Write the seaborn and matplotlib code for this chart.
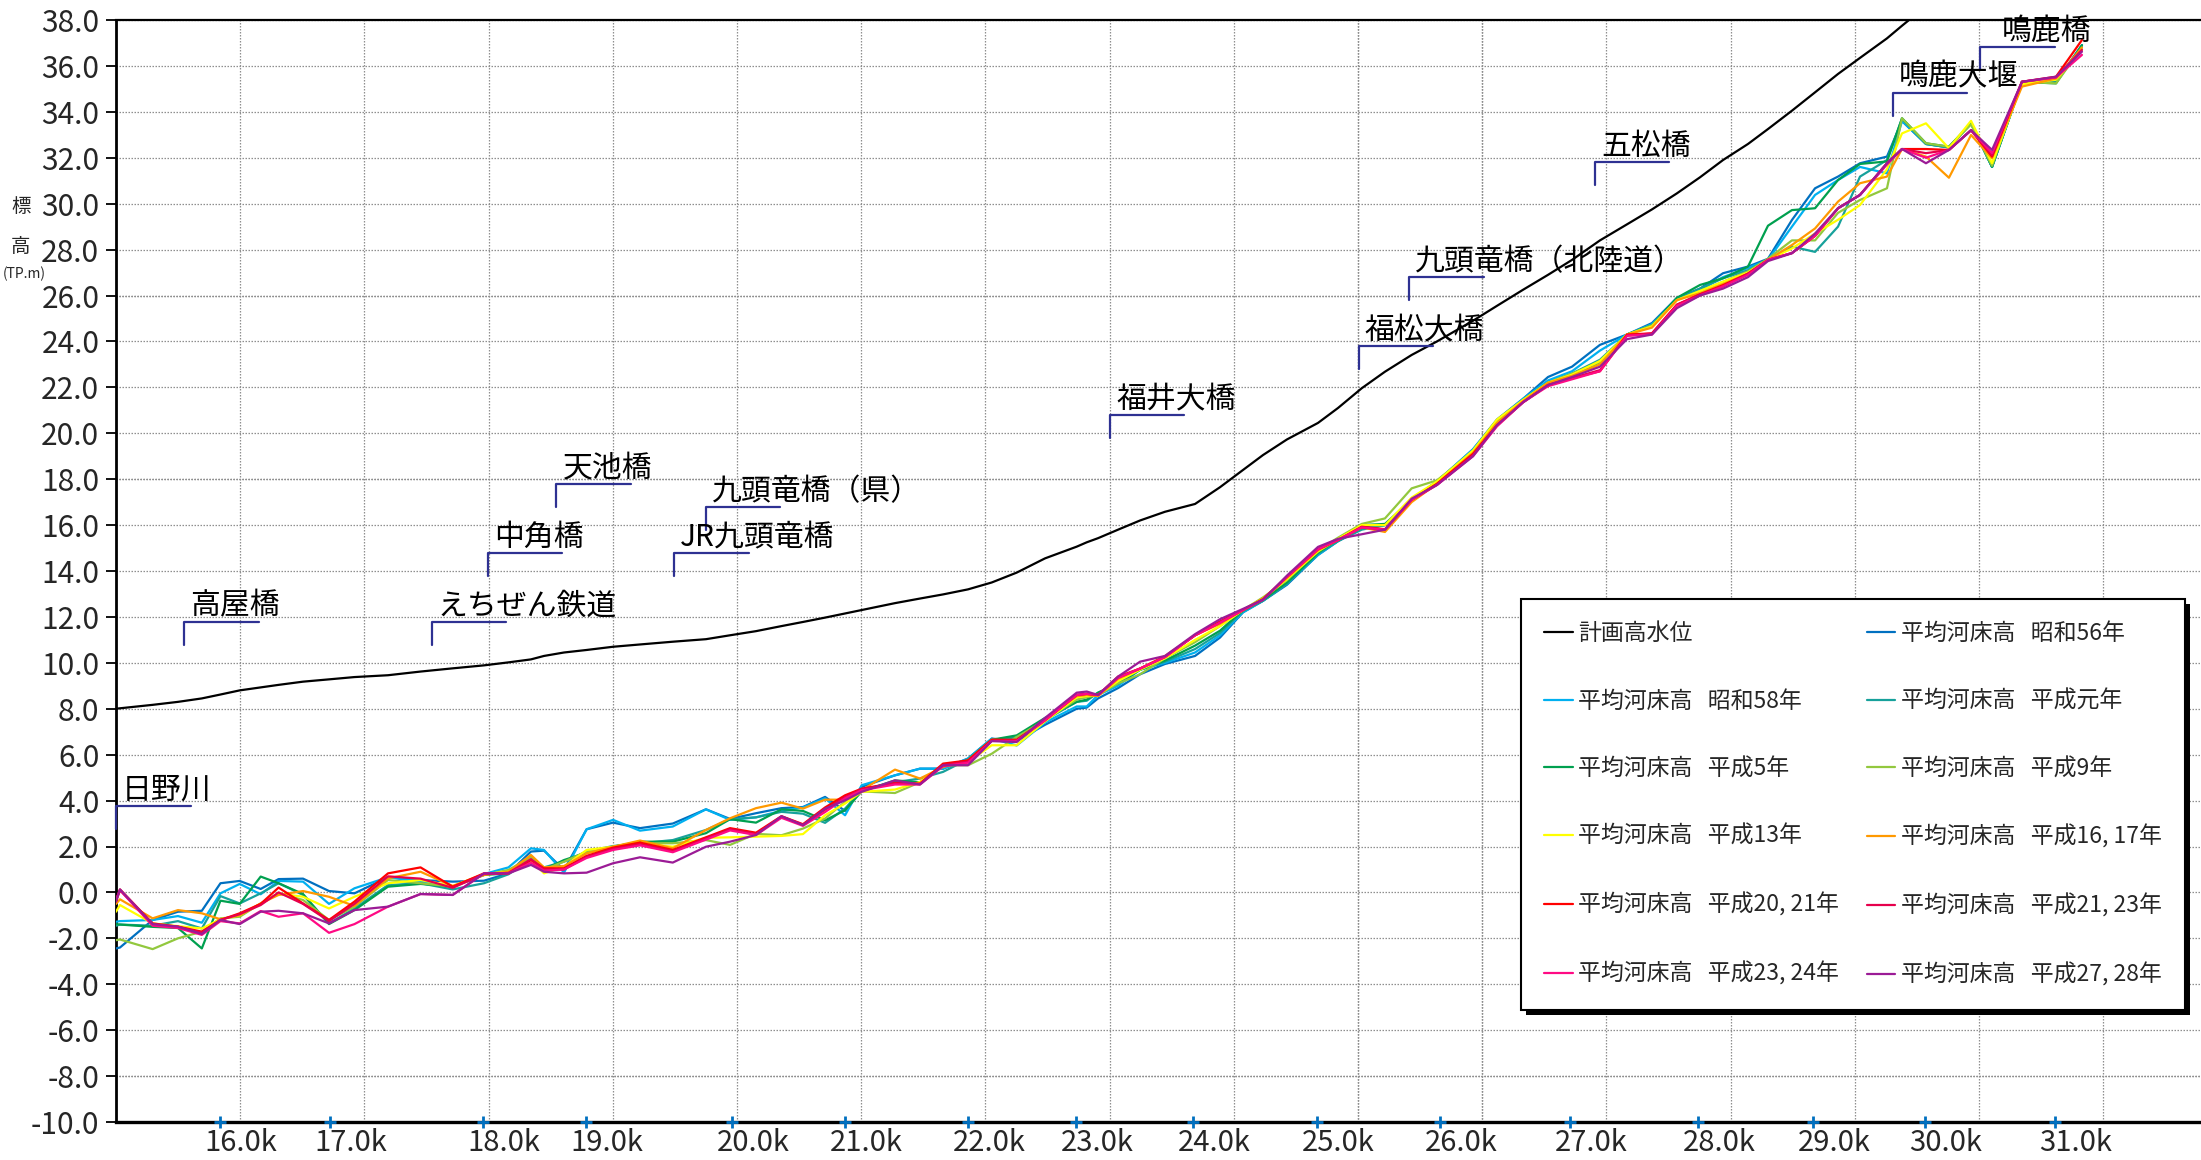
import numpy as np
import pandas as pd
import matplotlib
matplotlib.use("Agg")
import matplotlib.pyplot as plt
from matplotlib.lines import Line2D
from matplotlib.patches import Rectangle
from matplotlib.transforms import ScaledTranslation
import seaborn as sns

sns.set_theme(style="white")
plt.rcParams['font.family'] = ['Noto Sans CJK JP', 'DejaVu Sans']

# cumulative distance along the river (m) of each surveyed cross-section
distance = [0, 32, 295, 499, 691, 841, 996, 1165, 1309, 1506,
            1715, 1920, 2190, 2452, 2711, 2963, 3160, 3341, 3446, 3607,
            3789, 4002, 4219, 4483, 4750, 4944, 5153, 5358, 5531, 5709,
            5870, 6004, 6272, 6473, 6659, 6860, 7051, 7252, 7480, 7735,
            7816, 7907, 8068, 8245, 8446, 8688, 8889, 9074, 9235, 9428,
            9678, 9839, 10030, 10217, 10432, 10636, 10926, 11119, 11329, 11530,
            11723, 11948, 12166, 12367, 12568, 12754, 12939, 13140, 13301, 13494,
            13680, 13865, 14042, 14259, 14380, 14573, 14758, 14936, 15105, 15346,
            15620, 15829]

nan = np.nan
plan_hwl = [8.0, 8.02, 8.17, 8.3, 8.45, 8.62, 8.8, 8.93, 9.04, 9.18,
            9.28, 9.38, 9.46, 9.62, 9.76, 9.89, 10.02, 10.15, 10.3, 10.45,
            10.56, 10.7, 10.8, 10.92, 11.03, 11.2, 11.38, 11.6, 11.78, 11.97,
            12.15, 12.3, 12.6, 12.8, 12.98, 13.2, 13.5, 13.93, 14.55, 15.06,
            15.25, 15.43, 15.8, 16.2, 16.58, 16.92, 17.65, 18.4, 19.05, 19.73,
            20.45, 21.1, 21.96, 22.68, 23.41, 24.0, 24.9, 25.55, 26.25, 26.9,
            27.55, 28.4, 29.1, 29.75, 30.45, 31.15, 31.9, 32.6, 33.25, 34.05,
            34.85, 35.65, 36.35, 37.2, 37.75, 38.6, nan, nan, nan, nan,
            nan, nan]

bed_s56 = [-2.44, -2.4, -1.2, -0.84, -0.8, 0.4, 0.5, 0.15, 0.58, 0.6,
           0.06, -0.04, 0.66, 0.54, 0.47, 0.51, 0.83, 1.78, 1.82, 0.98,
           2.75, 3.04, 2.8, 3.0, 3.62, 3.2, 3.45, 3.67, 3.72, 4.16,
           3.55, 4.6, 5.1, 5.39, 5.39, 5.83, 6.7, 6.6, 7.3, 8.0,
           8.05, 8.45, 8.9, 9.5, 9.95, 10.3, 11.1, 12.2, 12.7, 13.4,
           14.7, 15.3, 15.9, 16.0, 17.1, 17.9, 19.3, 20.6, 21.5, 22.45,
           22.9, 23.85, 24.3, 24.8, 25.9, 26.3, 26.97, 27.26, 27.6, 29.29,
           30.67, 31.18, 31.76, 32.05, 33.6, 32.6, 32.45, 33.5, 31.6, 35.3,
           35.3, 36.9]
bed_s58 = [-1.28, -1.25, -1.2, -1.03, -1.32, -0.04, 0.37, -0.08, 0.5, 0.47,
           -0.5, 0.18, 0.66, 0.47, 0.25, 0.8, 1.09, 1.92, 1.85, 0.86,
           2.75, 3.16, 2.69, 2.87, 3.62, 3.16, 3.27, 3.56, 3.7, 4.1,
           3.36, 4.67, 5.1, 5.39, 5.39, 5.83, 6.7, 6.4, 7.4, 8.1,
           8.1, 8.6, 9.0, 9.7, 10.0, 10.45, 11.2, 12.2, 12.7, 13.45,
           14.7, 15.3, 15.85, 16.0, 17.1, 17.9, 19.3, 20.55, 21.5, 22.3,
           22.7, 23.6, 24.3, 24.75, 25.85, 26.25, 26.8, 27.2, 27.55, 29.0,
           30.38, 31.03, 31.6, 31.32, 33.6, 32.6, 32.45, 33.5, 31.6, 35.3,
           35.3, 36.9]
bed_h01 = [-1.45, -1.4, -1.45, -1.25, -1.57, -0.16, -0.48, -0.04, 0.4, -0.11,
           -1.35, -0.7, 0.32, 0.4, 0.13, 0.4, 0.79, 1.41, 1.09, 1.34,
           1.78, 2.02, 2.14, 2.28, 2.72, 3.19, 3.27, 3.51, 3.43, 3.03,
           3.65, 4.45, 4.8, 4.96, 5.25, 5.8, 6.65, 6.75, 7.5, 8.3,
           8.35, 8.7, 9.1, 9.7, 10.05, 10.6, 11.3, 12.25, 12.7, 13.45,
           14.75, 15.3, 15.8, 16.0, 17.1, 17.85, 19.25, 20.5, 21.45, 22.2,
           22.6, 23.2, 24.3, 24.7, 25.85, 26.3, 26.75, 27.1, 27.55, 28.13,
           27.9, 29.0, 31.18, 31.9, 33.7, 32.6, 32.45, 33.5, 31.6, 35.3,
           35.3, 36.9]
bed_h05 = [-1.38, -1.4, -1.5, -1.55, -2.44, -0.36, -0.5, 0.69, 0.4, -0.07,
           -1.38, -0.77, 0.25, 0.37, 0.25, 0.76, 0.83, 1.59, 1.0, 1.41,
           1.73, 1.99, 2.21, 2.21, 2.58, 3.19, 3.04, 3.62, 3.55, 3.14,
           3.58, 4.4, 4.88, 4.8, 5.5, 5.75, 6.65, 6.84, 7.6, 8.3,
           8.4, 8.7, 9.1, 9.7, 10.1, 10.75, 11.4, 12.3, 12.75, 13.5,
           14.8, 15.4, 16.0, 16.05, 17.1, 17.9, 19.2, 20.45, 21.45, 22.2,
           22.55, 23.1, 24.3, 24.7, 25.9, 26.46, 26.75, 27.26, 29.04, 29.72,
           29.8, 31.03, 31.73, 31.84, 33.72, 32.63, 32.48, 33.5, 31.61, 35.3,
           35.24, 36.9]
bed_h09 = [-2.08, -2.05, -2.47, -2.0, -1.71, -1.13, -1.06, -0.48, -0.04, -0.33,
           -1.2, -0.62, 0.54, 0.4, 0.25, 0.76, 0.98, 1.53, 1.0, 1.34,
           1.78, 1.99, 2.14, 2.14, 2.28, 2.07, 2.55, 2.49, 2.78, 3.22,
           3.95, 4.4, 4.33, 4.8, 5.54, 5.54, 6.04, 6.77, 7.5, 8.4,
           8.5, 8.6, 9.1, 9.5, 10.2, 10.9, 11.6, 12.3, 12.85, 13.6,
           14.9, 15.45, 16.05, 16.29, 17.6, 17.95, 19.2, 20.5, 21.45, 22.2,
           22.6, 23.1, 24.3, 24.7, 25.8, 26.2, 26.6, 27.05, 27.6, 28.4,
           28.4, 29.6, 30.16, 30.67, 33.72, 32.63, 32.48, 33.45, 31.65, 35.31,
           35.24, 36.8]
bed_h13 = [-0.84, -0.55, -1.35, -1.47, -1.57, -1.17, -0.99, -0.5, -0.04, -0.19,
           -0.7, -0.19, 0.4, 0.54, 0.28, 0.8, 0.9, 1.41, 0.83, 1.12,
           1.85, 1.99, 2.14, 1.99, 2.38, 2.4, 2.43, 2.46, 2.54, 3.36,
           3.87, 4.38, 4.48, 4.81, 5.54, 5.68, 6.41, 6.41, 7.45, 8.5,
           8.55, 8.6, 9.2, 9.7, 10.2, 11.0, 11.6, 12.3, 12.8, 13.65,
           14.85, 15.4, 16.0, 16.0, 17.2, 17.9, 19.25, 20.6, 21.45, 22.2,
           22.55, 23.15, 24.3, 24.65, 25.8, 26.2, 26.6, 27.0, 27.55, 28.05,
           28.7, 29.3, 29.94, 31.5, 33.06, 33.5, 32.41, 33.61, 31.76, 35.2,
           35.4, 36.7]
bed_h16 = [-0.5, -0.3, -1.13, -0.77, -0.91, -1.17, -0.99, -0.48, -0.11, 0.06,
           -0.19, -0.59, 0.61, 0.9, 0.28, 0.76, 0.9, 1.63, 1.09, 1.15,
           1.7, 1.99, 2.26, 1.92, 2.72, 3.23, 3.67, 3.91, 3.65, 4.04,
           4.04, 4.45, 5.35, 4.96, 5.46, 5.75, 6.65, 6.6, 7.55, 8.55,
           8.6, 8.55, 9.3, 9.75, 10.3, 11.2, 11.7, 12.3, 12.8, 13.7,
           14.9, 15.35, 15.9, 15.7, 17.0, 17.8, 19.15, 20.45, 21.4, 22.2,
           22.5, 23.0, 24.3, 24.6, 25.8, 26.1, 26.5, 26.95, 27.55, 28.2,
           28.92, 30.09, 30.89, 31.18, 32.38, 32.05, 31.13, 32.99, 31.98, 35.1,
           35.45, 36.8]
bed_h20 = [-0.4, 0.13, -1.35, -1.49, -1.71, -1.2, -0.91, -0.5, 0.21, -0.48,
           -1.2, -0.4, 0.83, 1.09, 0.25, 0.83, 0.83, 1.41, 1.05, 1.05,
           1.59, 1.95, 2.17, 1.85, 2.4, 2.8, 2.6, 3.32, 2.97, 3.7,
           4.23, 4.52, 4.77, 4.74, 5.61, 5.75, 6.65, 6.65, 7.5, 8.6,
           8.65, 8.6, 9.4, 9.75, 10.27, 11.2, 11.8, 12.3, 12.77, 13.75,
           14.95, 15.35, 15.93, 15.82, 17.1, 17.8, 19.1, 20.35, 21.35, 22.1,
           22.4, 22.7, 24.3, 24.35, 25.6, 26.05, 26.45, 26.95, 27.55, 27.85,
           28.6, 29.8, 30.38, 31.76, 32.38, 32.38, 32.34, 33.2, 32.05, 35.31,
           35.53, 37.13]
bed_h21 = [-0.3, 0.1, -1.4, -1.5, -1.75, -1.2, -0.95, -0.55, 0.0, -0.5,
           -1.25, -0.5, 0.7, 0.6, 0.2, 0.8, 0.85, 1.45, 1.0, 1.0,
           1.55, 1.9, 2.1, 1.8, 2.35, 2.75, 2.55, 3.3, 2.95, 3.6,
           4.15, 4.5, 4.75, 4.72, 5.55, 5.7, 6.6, 6.6, 7.5, 8.6,
           8.65, 8.6, 9.35, 9.75, 10.25, 11.2, 11.75, 12.3, 12.75, 13.75,
           14.95, 15.35, 15.9, 15.8, 17.1, 17.75, 19.05, 20.35, 21.35, 22.1,
           22.4, 22.75, 24.25, 24.35, 25.6, 26.05, 26.4, 26.95, 27.55, 27.85,
           28.6, 29.8, 30.38, 31.76, 32.38, 32.2, 32.34, 33.2, 32.1, 35.31,
           35.5, 36.7]
bed_h23 = [-0.35, 0.1, -1.45, -1.55, -1.85, -1.25, -1.35, -0.81, -1.06, -0.91,
           -1.76, -1.38, -0.62, -0.07, -0.11, 0.83, 0.83, 1.3, 0.95, 1.0,
           1.5, 1.85, 2.05, 1.75, 2.3, 2.7, 2.5, 3.25, 2.9, 3.5,
           4.1, 4.45, 4.7, 4.7, 5.5, 5.65, 6.6, 6.6, 7.5, 8.6,
           8.65, 8.6, 9.35, 9.75, 10.25, 11.2, 11.75, 12.3, 12.75, 13.75,
           14.95, 15.35, 15.9, 15.8, 17.1, 17.75, 19.0, 20.3, 21.35, 22.05,
           22.35, 22.7, 24.25, 24.3, 25.55, 26.0, 26.4, 26.9, 27.55, 27.85,
           28.6, 29.8, 30.38, 31.7, 32.38, 32.0, 32.34, 33.2, 32.2, 35.31,
           35.5, 36.48]
bed_h27 = [-0.4, 0.13, -1.38, -1.49, -1.81, -1.2, -1.38, -0.84, -0.8, -0.91,
           -1.35, -0.77, -0.62, -0.07, -0.11, 0.83, 0.83, 1.2, 0.9, 0.83,
           0.86, 1.27, 1.53, 1.3, 1.99, 2.21, 2.5, 3.32, 2.93, 3.65,
           4.01, 4.38, 4.88, 4.7, 5.54, 5.54, 6.59, 6.55, 7.6, 8.7,
           8.75, 8.6, 9.4, 10.05, 10.3, 11.25, 11.9, 12.35, 12.75, 13.8,
           15.05, 15.4, 15.6, 15.8, 17.15, 17.75, 19.0, 20.35, 21.35, 22.1,
           22.45, 22.9, 24.1, 24.3, 25.45, 26.0, 26.3, 26.8, 27.5, 27.84,
           28.7, 29.8, 30.38, 31.76, 32.38, 31.76, 32.34, 33.2, 32.34, 35.31,
           35.53, 36.62]

plan_name = "計画高水位"
bed_names = ["平均河床高   昭和56年", "平均河床高   昭和58年", "平均河床高   平成元年",
             "平均河床高   平成5年", "平均河床高   平成9年", "平均河床高   平成13年",
             "平均河床高   平成16, 17年", "平均河床高   平成20, 21年",
             "平均河床高   平成21, 23年", "平均河床高   平成23, 24年",
             "平均河床高   平成27, 28年"]
bed_values = [bed_s56, bed_s58, bed_h01, bed_h05, bed_h09, bed_h13,
              bed_h16, bed_h20, bed_h21, bed_h23, bed_h27]
bed_colors = ["#0070C0", "#00B0F0", "#17A19B", "#00A04F", "#92C83E", "#FFFF00",
              "#FF9900", "#FF0000", "#E6004C", "#FF0A84", "#9B1B96"]

# kilometre posts
km_labels = ["16.0k", "17.0k", "18.0k", "19.0k", "20.0k", "21.0k", "22.0k", "23.0k",
             "24.0k", "25.0k", "26.0k", "27.0k", "28.0k", "29.0k", "30.0k", "31.0k"]
km_distance = [837, 1723, 2955, 3784, 4960, 5870, 6860, 7729,
               8671, 9670, 10660, 11707, 12738, 13663, 14565, 15612]

# river structures along the reach
site_names = ["日野川", "高屋橋", "えちぜん鉄道", "中角橋", "天池橋", "JR九頭竜橋",
              "九頭竜橋（県）", "福井大橋", "福松大橋", "九頭竜橋（北陸道）", "五松橋",
              "鳴鹿大堰", "鳴鹿橋"]
site_distance = [0, 551, 2543, 2995, 3546, 4493, 4747, 8003, 10006, 10411, 11908,
                 14305, 15008]
site_level = [3.78, 11.79, 11.79, 14.8, 17.79, 14.8, 16.8, 20.8, 23.81, 26.82, 31.83,
              34.83, 36.84]

# ---------------------------------------------------------------- data frame
frames = []
for name, vals in zip(bed_names, bed_values):
    frames.append(pd.DataFrame({"distance": distance, "elevation": vals, "series": name}))
bed_df = pd.concat(frames, ignore_index=True)
plan_df = pd.DataFrame({"distance": distance, "elevation": plan_hwl})

# ---------------------------------------------------------------- figure
W, H = 2201, 1160
fig = plt.figure(figsize=(W / 100, H / 100), dpi=100)
fig.patch.set_facecolor("white")
ax_l, ax_t, ax_r, ax_b = 116, 20, 2201, 1122
ax = fig.add_axes([ax_l / W, 1 - ax_b / H, (ax_r - ax_l) / W, (ax_b - ax_t) / H])
ax.set_facecolor("white")

px_per_m = 0.1242
ax.set_xlim(0, (ax_r - ax_l) / px_per_m)
ax.set_ylim(-10, 38)

# grid
grid_kw = dict(color="#8f8f8f", linestyle=(0, (1.2, 1.2)), linewidth=0.9)
ax.set_xticks(np.arange(0, 17000, 1000), minor=True)
ax.grid(which="minor", axis="x", **grid_kw)
ax.grid(which="major", axis="y", **grid_kw)
ax.grid(which="major", axis="x", visible=False)
for yv in (26, 18, -8):
    ax.axhline(yv, color="#505050", linestyle=(0, (1.2, 1.2)), linewidth=0.9, zorder=0.5)
for xv in (10000, 11000):
    ax.axvline(xv, color="#505050", linestyle=(0, (1.2, 1.2)), linewidth=0.9, zorder=0.5)

# lines
sns.lineplot(data=plan_df, x="distance", y="elevation", color="black", linewidth=1.6,
             sort=False, estimator=None, ax=ax, legend=False, zorder=3)
sns.lineplot(data=bed_df, x="distance", y="elevation", hue="series", hue_order=bed_names,
             palette=dict(zip(bed_names, bed_colors)), sort=False, estimator=None,
             linewidth=1.6, ax=ax, legend=False, zorder=3)

# structure markers
site_color = "#2E3192"
for name, xd, yv in zip(site_names, site_distance, site_level):
    ax.plot([xd, xd, xd + 600], [yv - 1.0, yv, yv], color=site_color, linewidth=1.6,
            zorder=4, clip_on=False)
    dx = 22 if name == "鳴鹿橋" else 6
    ax.annotate(name, xy=(xd, yv), xytext=(dx, 7), textcoords="offset pixels",
                fontsize=21.5, va="baseline", ha="left", color="black", zorder=6)

# axes styling
ax.spines["right"].set_visible(False)
for side in ("left", "top", "bottom"):
    ax.spines[side].set_color("black")
ax.spines["left"].set_linewidth(2.0)
ax.spines["top"].set_linewidth(1.6)
ax.spines["bottom"].set_linewidth(2.4)

yt = np.arange(-10, 38.01, 2)
ax.set_yticks(yt)
ax.set_yticklabels([f"{v:.1f}" for v in yt])
ax.tick_params(axis="y", which="major", direction="out", length=7, width=1.3,
               color="black", labelsize=21.5, pad=5, left=True)
ax.set_xticks(km_distance)
ax.set_xticklabels(km_labels)
ax.tick_params(axis="x", which="both", length=0, labelsize=21, pad=4)
shift = ScaledTranslation(21 / 100, 0, fig.dpi_scale_trans)
for lbl in ax.get_xticklabels():
    lbl.set_transform(lbl.get_transform() + shift)
ax.set_xlabel("")
ax.set_ylabel("")

# kilometre post markers on the baseline
ax.plot(km_distance, [ax.get_ylim()[0]] * len(km_distance), linestyle="none",
        marker="+", markersize=9, markeredgewidth=2, color="#0070C0",
        clip_on=False, zorder=7)

# vertical axis title, stacked in the left margin
fig.text(21 / W, 1 - 207 / H, "標", ha="center", va="center", fontsize=14)
fig.text(21 / W, 1 - 246 / H, "高", ha="center", va="center", fontsize=14)
fig.text(3 / W, 1 - 274 / H, "(TP.m)", ha="left", va="center", fontsize=10)

# legend
all_names = [plan_name] + bed_names
all_colors = ["black"] + bed_colors
handles = [Line2D([], [], color=c, linewidth=1.6) for c in all_colors]
order = list(range(0, 12, 2)) + list(range(1, 12, 2))
x0 = (1521 - ax_l) / (ax_r - ax_l)
x1 = (2185 - ax_l) / (ax_r - ax_l)
y1 = (ax_b - 599) / (ax_b - ax_t)
leg = ax.legend([handles[i] for i in order], [all_names[i] for i in order], ncol=2,
                loc="upper left", bbox_to_anchor=(x0, y1, x1 - x0, 0), mode="expand",
                fontsize=16.5, frameon=True, fancybox=False, edgecolor="black",
                labelspacing=1.95, borderpad=1.0, handlelength=1.25, handletextpad=0.25,
                borderaxespad=0, columnspacing=1.0)
leg.get_frame().set_linewidth(1.5)
leg.get_frame().set_facecolor("white")
leg.get_frame().set_alpha(1)
leg.set_zorder(10)

fig.canvas.draw()
bb = leg.get_window_extent()
inv = ax.transAxes.inverted()
(sx0, sy0), (sx1, sy1) = inv.transform([(bb.x0 + 5, bb.y0 - 5), (bb.x1 + 5, bb.y1 - 5)])
ax.add_patch(Rectangle((sx0, sy0), sx1 - sx0, sy1 - sy0, transform=ax.transAxes,
                       facecolor="black", edgecolor="none", zorder=9.5, clip_on=False))

fig.savefig("out.png", dpi=100, facecolor="white")
